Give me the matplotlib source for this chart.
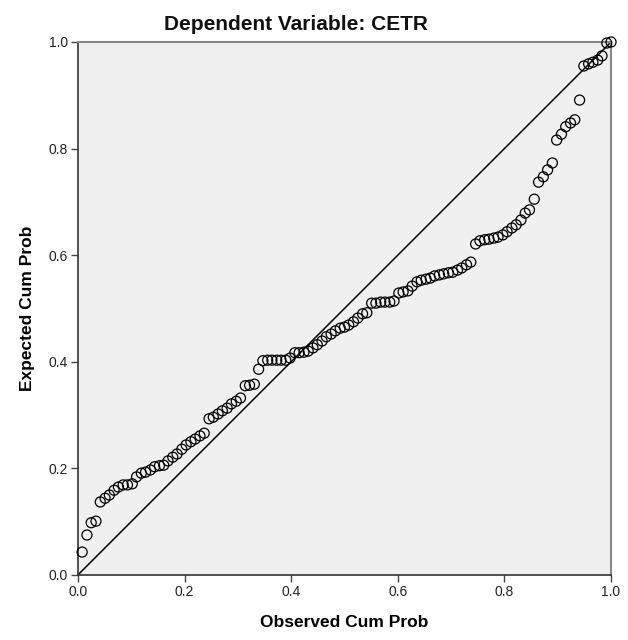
import numpy as np
import matplotlib
matplotlib.use("Agg")
import matplotlib.pyplot as plt

# observed cumulative probability (rank / N)
observed = [0.008, 0.017, 0.025, 0.034, 0.042, 0.051, 0.059, 0.068, 0.076, 0.085,
            0.093, 0.102, 0.110, 0.119, 0.127, 0.136, 0.144, 0.153, 0.161, 0.169,
            0.178, 0.186, 0.195, 0.203, 0.212, 0.220, 0.229, 0.237, 0.246, 0.254,
            0.263, 0.271, 0.280, 0.288, 0.297, 0.305, 0.314, 0.322, 0.331, 0.339,
            0.347, 0.356, 0.364, 0.373, 0.381, 0.390, 0.398, 0.407, 0.415, 0.424,
            0.432, 0.441, 0.449, 0.458, 0.466, 0.475, 0.483, 0.492, 0.500, 0.508,
            0.517, 0.525, 0.534, 0.542, 0.551, 0.559, 0.568, 0.576, 0.585, 0.593,
            0.602, 0.610, 0.619, 0.627, 0.636, 0.644, 0.653, 0.661, 0.669, 0.678,
            0.686, 0.695, 0.703, 0.712, 0.720, 0.729, 0.737, 0.746, 0.754, 0.763,
            0.771, 0.780, 0.788, 0.797, 0.805, 0.814, 0.822, 0.831, 0.839, 0.847,
            0.856, 0.864, 0.873, 0.881, 0.890, 0.898, 0.907, 0.915, 0.924, 0.932,
            0.941, 0.949, 0.958, 0.966, 0.975, 0.983, 0.992, 1.000]

# expected cumulative probability
expected = [0.043, 0.075, 0.098, 0.101, 0.137, 0.144, 0.150, 0.159, 0.165, 0.169,
            0.169, 0.171, 0.184, 0.191, 0.193, 0.197, 0.203, 0.205, 0.206, 0.214,
            0.221, 0.227, 0.236, 0.244, 0.250, 0.255, 0.261, 0.266, 0.293, 0.296,
            0.302, 0.308, 0.313, 0.321, 0.326, 0.332, 0.355, 0.356, 0.358, 0.386,
            0.402, 0.403, 0.403, 0.403, 0.403, 0.403, 0.407, 0.417, 0.417, 0.418,
            0.420, 0.426, 0.432, 0.439, 0.447, 0.452, 0.458, 0.463, 0.465, 0.469,
            0.475, 0.482, 0.490, 0.492, 0.510, 0.510, 0.512, 0.512, 0.512, 0.514,
            0.529, 0.531, 0.533, 0.542, 0.550, 0.553, 0.555, 0.557, 0.561, 0.563,
            0.565, 0.567, 0.568, 0.572, 0.576, 0.582, 0.587, 0.621, 0.627, 0.629,
            0.630, 0.632, 0.634, 0.638, 0.644, 0.651, 0.657, 0.666, 0.679, 0.685,
            0.705, 0.737, 0.747, 0.760, 0.773, 0.816, 0.827, 0.841, 0.848, 0.854,
            0.891, 0.955, 0.959, 0.962, 0.966, 0.974, 0.998, 1.000]

ticks = [0.0, 0.2, 0.4, 0.6, 0.8, 1.0]
tick_labels = ["0.0", "0.2", "0.4", "0.6", "0.8", "1.0"]

plt.rcParams['font.family'] = ['Liberation Sans', 'DejaVu Sans']

fig = plt.figure(figsize=(6.28, 6.4), dpi=100)
ax = fig.add_axes([0.124, 0.1016, 0.849, 0.8328])
ax.set_facecolor("#f0f0f0")

# reference diagonal
ax.plot([0, 1], [0, 1], color="black", lw=1.1, zorder=2)
ax.scatter(observed, expected, s=52, facecolors="none", edgecolors="black",
           linewidths=0.9, zorder=3, clip_on=False)

ax.set_xlim(0, 1)
ax.set_ylim(0, 1)
ax.set_xticks(ticks)
ax.set_xticklabels(tick_labels)
ax.set_yticks(ticks)
ax.set_yticklabels(tick_labels)
ax.tick_params(direction="out", length=5, width=1, color="#444444",
               labelsize=10, labelcolor="#222222", pad=2)

for side in ["left", "bottom"]:
    ax.spines[side].set_color("#333333")
    ax.spines[side].set_linewidth(1.2)
for side in ["top", "right"]:
    ax.spines[side].set_color("#888888")
    ax.spines[side].set_linewidth(1.5)

# subtitle sits a bit left of the plot centre, as in SPSS output
fig.text(0.472, 0.953, "Dependent Variable: CETR", fontsize=15,
         fontweight="bold", ha="center", va="baseline", color="#111111")
ax.set_xlabel("Observed Cum Prob", fontsize=12.5, fontweight="bold", labelpad=12)
ax.set_ylabel("Expected Cum Prob", fontsize=12.5, fontweight="bold", labelpad=10)

fig.savefig("out.png", dpi=100)
